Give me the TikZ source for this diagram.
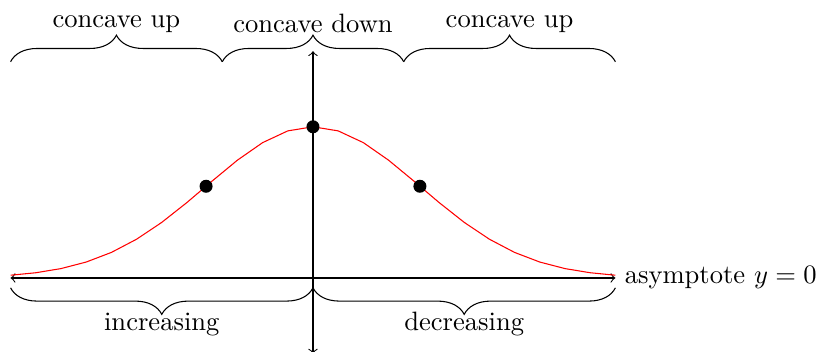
\documentclass[tikz,border=0pt]{standalone}
\usetikzlibrary{decorations.pathreplacing}
\begin{document}
\begin{tikzpicture}[
  bracedeco/.style={decorate,decoration={brace,amplitude=10pt}},
  dotmark/.style={circle,fill=black,inner sep=0pt,minimum size=4.9pt}
]
\useasboundingbox (-4.140,-0.979) rectangle (6.693,3.677);
% axes
\coordinate (xl) at (-4,0);
\coordinate (xr) at (4,0);
\coordinate (yb) at (0,-1);
\coordinate (yt) at (0,3);
\draw[<->] (xl) -- (xr) node[right] (asy) {asymptote $y=0$};
\draw[<->] (yb) -- (yt);
% curve
\draw[red,domain=-4:4,samples=25] plot (\x,{2*exp(-(\x)^2/4)});
% points
\node[dotmark] (pmax) at (0,2) {};
\node[dotmark] (pl) at ({-sqrt(2)},{2*exp(-0.5)}) {};
\node[dotmark] (pr) at ({sqrt(2)},{2*exp(-0.5)}) {};
% top braces
\coordinate (t0) at (-4,2.86);
\coordinate (t1) at (-1.2,2.86);
\coordinate (t2) at (1.2,2.86);
\coordinate (t3) at (4,2.86);
\draw[bracedeco] (t0) -- (t1);
\draw[bracedeco] (t1) -- (t2);
\draw[bracedeco] (t2) -- (t3);
\node[anchor=south] (cu1) at (-2.6,3.12) {concave up};
\node[anchor=south] (cd) at (0,3.12) {concave down};
\node[anchor=south] (cu2) at (2.6,3.12) {concave up};
% bottom braces
\coordinate (b0) at (-4,-0.13);
\coordinate (b1) at (0,-0.13);
\coordinate (b2) at (4,-0.13);
\draw[bracedeco] (b1) -- (b0);
\draw[bracedeco] (b2) -- (b1);
\node[anchor=base] (inc) at (-2,-0.69) {increasing};
\node[anchor=base] (dec) at (2,-0.69) {decreasing};
\end{tikzpicture}
\end{document}
